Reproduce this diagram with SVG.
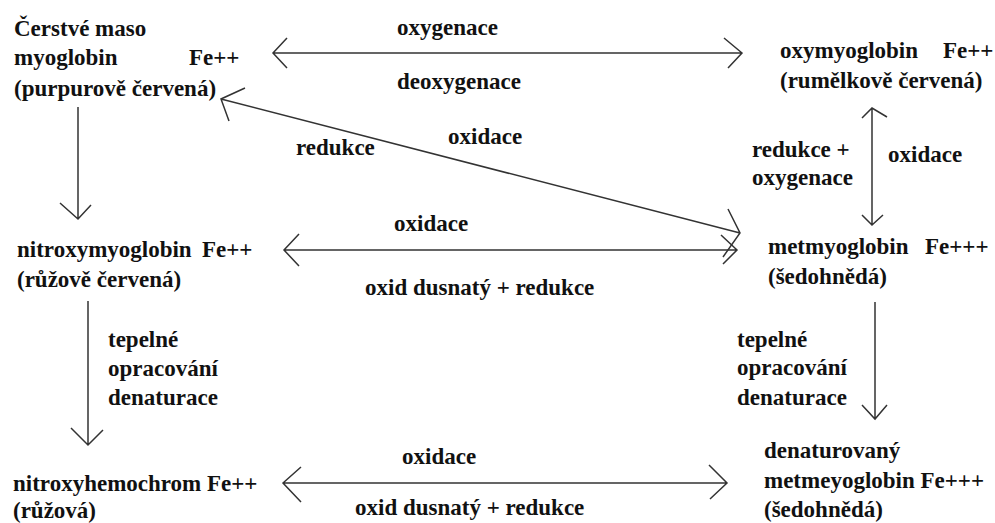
<svg xmlns="http://www.w3.org/2000/svg" width="995" height="523" viewBox="0 0 995 523">
<style>
.l{stroke:#333;stroke-width:1.5;fill:none}
</style>
<rect width="995" height="523" fill="#fff"/>
<g id="connectors" class="l">
<path d="M273,53H742M287,38L273,53L287,68M724,38L742,53L728,68"/>
<path d="M221,99L740,233M245,88L221,99L229,121M728,209L740,233L723,257"/>
<path d="M284,250H737M299,234L284,250L299,266M721,235L737,250L723,264"/>
<path d="M283,483H727M301,467L283,483L301,502M709,465L727,483L710,499"/>
<path d="M78,107V219M60,203L78,219L91,205"/>
<path d="M88,301V445M71,428L88,445L103,430"/>
<path d="M872,108V225M862,118L872,108L887,117M862,215L872,225L883,215"/>
<path d="M875,302V419M862,405L875,419L887,405"/>
</g>
<g font-family="Liberation Serif, serif" font-weight="bold" font-size="23" fill="#111">
<g id="n-cerstve"><text x="14" y="36">Čerstvé maso</text><text x="14" y="65">myoglobin</text><text x="189" y="65">Fe++</text><text x="14" y="96">(purpurově červená)</text></g>
<g id="n-oxymyo"><text x="780" y="58">oxymyoglobin</text><text x="943" y="58">Fe++</text><text x="780" y="88">(rumělkově červená)</text></g>
<g id="n-nitroxymyo"><text x="17" y="257">nitroxymyoglobin</text><text x="202" y="257">Fe++</text><text x="17" y="287">(růžově červená)</text></g>
<g id="n-metmyo"><text x="768" y="254">metmyoglobin</text><text x="925" y="254">Fe+++</text><text x="768" y="284">(šedohnědá)</text></g>
<g id="n-nitroxyhemo"><text x="13" y="491">nitroxyhemochrom Fe++</text><text x="13" y="518">(růžová)</text></g>
<g id="n-denat"><text x="764" y="458">denaturovaný</text><text x="764" y="488">metmeyoglobin Fe+++</text><text x="764" y="517">(šedohnědá)</text></g>
<g id="labels">
<text x="397" y="35">oxygenace</text>
<text x="397" y="89">deoxygenace</text>
<text x="448" y="144">oxidace</text>
<text x="296" y="155">redukce</text>
<text x="394" y="231">oxidace</text>
<text x="365" y="295">oxid dusnatý + redukce</text>
<text x="752" y="157">redukce +</text>
<text x="752" y="185">oxygenace</text>
<text x="888" y="162">oxidace</text>
<text x="108" y="347">tepelné</text>
<text x="108" y="376">opracování</text>
<text x="108" y="405">denaturace</text>
<text x="737" y="347">tepelné</text>
<text x="737" y="375">opracování</text>
<text x="737" y="405">denaturace</text>
<text x="402" y="464">oxidace</text>
<text x="355" y="515">oxid dusnatý + redukce</text>
</g>
</g>
</svg>
